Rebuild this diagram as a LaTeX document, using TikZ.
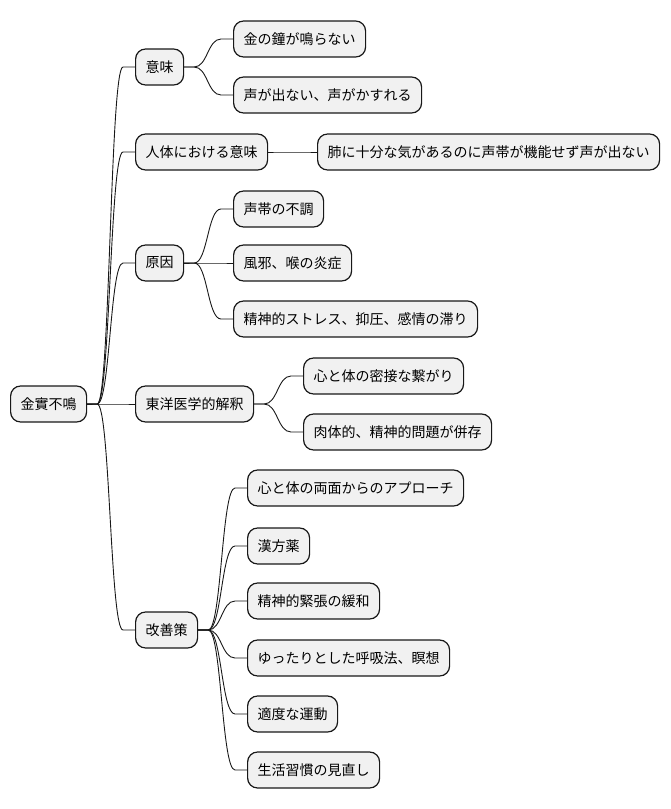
\documentclass[tikz,border=0pt]{standalone}
\usepackage{fontspec}
\setmainfont{Noto Sans CJK JP}
\usetikzlibrary{calc}
\definecolor{nodefill}{HTML}{F1F1F1}
\definecolor{nodeline}{HTML}{181818}
\tikzset{
  mm/.style={draw=nodeline, fill=nodefill, line width=1.2pt, rounded corners=10pt,
    minimum height=36pt, inner xsep=10pt, inner ysep=0pt, anchor=west,
    font=\fontsize{14}{16}\selectfont},
  conn/.style={draw=nodeline, line width=0.9pt}
}
\begin{document}
\begin{tikzpicture}[x=1pt,y=-1pt]
\useasboundingbox (0,0) rectangle (670,809);
\node[mm] (root) at (10,404) {金實不鳴};
\node[mm] (imi) at (135,67) {意味};
\node[mm] (jintai) at (135,152) {人体における意味};
\node[mm] (gen) at (135,263) {原因};
\node[mm] (toyo) at (135,404) {東洋医学的解釈};
\node[mm] (kai) at (135,630) {改善策};
\node[mm] (a1) at (233,39) {金の鐘が鳴らない};
\node[mm] (a2) at (233,95) {声が出ない、声がかすれる};
\node[mm] (b1) at (317,152) {肺に十分な気があるのに声帯が機能せず声が出ない};
\node[mm] (c1) at (233,209) {声帯の不調};
\node[mm] (c2) at (233,263) {風邪、喉の炎症};
\node[mm] (c3) at (233,319) {精神的ストレス、抑圧、感情の滞り};
\node[mm] (d1) at (303,376) {心と体の密接な繋がり};
\node[mm] (d2) at (303,432) {肉体的、精神的問題が併存};
\node[mm] (e1) at (247,488) {心と体の両面からのアプローチ};
\node[mm] (e2) at (247,546) {漢方薬};
\node[mm] (e3) at (247,601) {精神的緊張の緩和};
\node[mm] (e4) at (247,658) {ゆったりとした呼吸法、瞑想};
\node[mm] (e5) at (247,714) {適度な運動};
\node[mm] (e6) at (247,770) {生活習慣の見直し};
\foreach \p/\c in {root/imi, root/jintai, root/gen, root/toyo, root/kai,
  imi/a1, imi/a2, jintai/b1, gen/c1, gen/c2, gen/c3, toyo/d1, toyo/d2,
  kai/e1, kai/e2, kai/e3, kai/e4, kai/e5, kai/e6}{
  \path (\p.east) ++(10,0) coordinate (ca);
  \path (\c.west) ++(-12,0) coordinate (cb);
  \path ($(ca)!0.5!(cb)$) coordinate (cm);
  \draw[conn] (\p.east) -- (ca) .. controls (cm |- ca) and (cm |- cb) .. (cb) -- (\c.west);
}
\end{tikzpicture}
\end{document}
